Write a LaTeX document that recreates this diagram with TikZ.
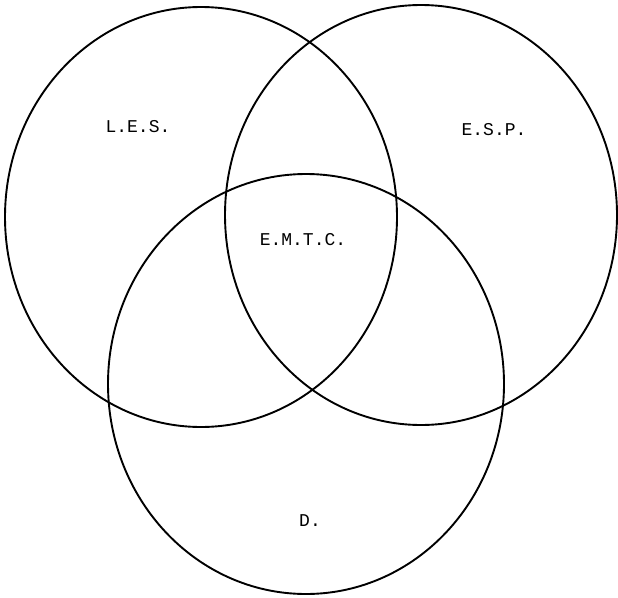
\documentclass[tikz,border=0pt]{standalone}
\usepackage{fontspec}
\setmonofont{Liberation Mono}
\begin{document}
\begin{tikzpicture}[x=1pt,y=-1pt,
  ring/.style={draw=black,line width=1.9pt},
  lbl/.style={font=\ttfamily\fontsize{18}{18}\selectfont,inner sep=0pt}]
\useasboundingbox (0,0) rectangle (618,597);
\draw[ring] (201,217) ellipse [x radius=196, y radius=210];
\draw[ring] (421,215) ellipse [x radius=196, y radius=210];
\draw[ring] (306,384) ellipse [x radius=198, y radius=210];
\node[lbl] (les) at (138,127) {L.E.S.};
\node[lbl] (esp) at (494,130) {E.S.P.};
\node[lbl] (emtc) at (303,240) {E.M.T.C.};
\node[lbl] (d) at (310,521) {D.};
\end{tikzpicture}
\end{document}
